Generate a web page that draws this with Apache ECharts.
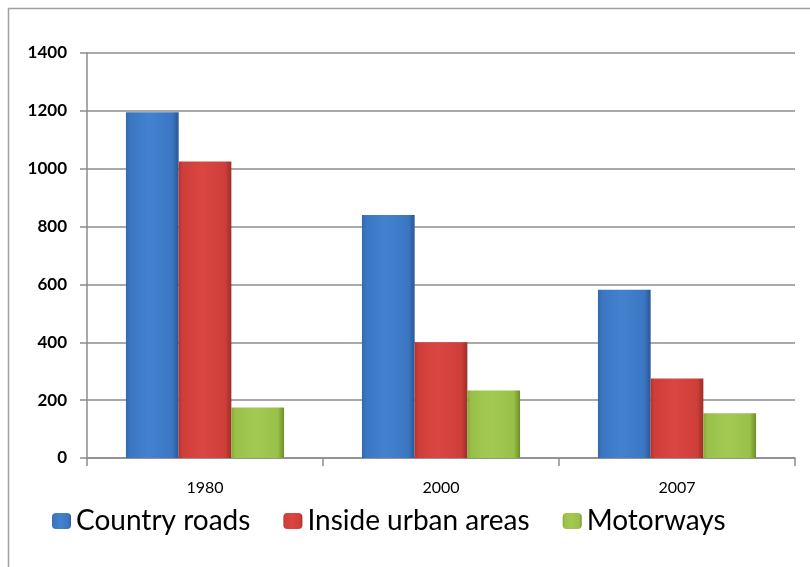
<!DOCTYPE html>
<html>
<head>
<meta charset="utf-8">
<style>
  html, body { margin: 0; padding: 0; background: #ffffff; }
  #chart { width: 810px; height: 567px; }
</style>
<script src="https://cdn.jsdelivr.net/npm/echarts@6/dist/echarts.min.js"></script>
</head>
<body>
<div id="chart"></div>
<script>
// Road fatalities by road type
const years = ['1980', '2000', '2007'];
const countryRoads = [1195, 840, 582];
const urbanAreas = [1025, 400, 275];
const motorways = [175, 233, 155];
const seriesNames = ['Country roads', 'Inside urban areas', 'Motorways'];

const FONT = 'Lato, "Liberation Sans", sans-serif';

// horizontal shading giving each bar a bevelled look
function bevel(edge, main, light, dark) {
  return new echarts.graphic.LinearGradient(0, 0, 1, 0, [
    { offset: 0, color: edge },
    { offset: 0.08, color: main },
    { offset: 0.45, color: light },
    { offset: 0.88, color: main },
    { offset: 1, color: dark }
  ]);
}

const fills = [
  bevel('#3468AD', '#3B76C2', '#4382CF', '#2A5893'),
  bevel('#B5342F', '#D03E39', '#DA4742', '#9E2E2A'),
  bevel('#86A93A', '#99C148', '#A3C952', '#6F8D2B')
];

const chart = echarts.init(document.getElementById('chart'), null, { renderer: 'canvas' });

chart.setOption({
  animation: false,
  backgroundColor: '#ffffff',
  graphic: [{
    type: 'rect',
    shape: { x: 8.5, y: 8.5, width: 900, height: 700 },
    style: { fill: 'none', stroke: '#a0a0a0', lineWidth: 1.5 },
    silent: true,
    z: -1
  }],
  grid: { left: 87, right: 15, top: 53, bottom: 109, containLabel: false },
  legend: {
    data: seriesNames,
    left: 47,
    top: 502,
    itemWidth: 19,
    itemHeight: 16,
    itemGap: 33,
    textStyle: { fontFamily: FONT, fontSize: 28, color: '#000000' }
  },
  xAxis: {
    type: 'category',
    data: years,
    axisLine: { lineStyle: { color: '#8c8c8c', width: 1.5 } },
    axisTick: { show: true, alignWithLabel: false, length: 8, lineStyle: { color: '#8c8c8c', width: 1.5 } },
    axisLabel: { fontFamily: FONT, fontSize: 16, color: '#000000', margin: 22 }
  },
  yAxis: {
    type: 'value',
    min: 0,
    max: 1400,
    interval: 200,
    axisLine: { show: true, lineStyle: { color: '#8c8c8c', width: 1.5 } },
    axisTick: { show: true, length: 7, lineStyle: { color: '#8c8c8c', width: 1.5 } },
    axisLabel: {
      fontFamily: FONT, fontSize: 17, fontWeight: 'bold', color: '#000000', margin: 20,
      formatter: function (v) { return String(v); }
    },
    splitLine: { lineStyle: { color: '#8c8c8c', width: 1.5 } }
  },
  series: [
    { name: seriesNames[0], type: 'bar', data: countryRoads, barGap: '0%', barCategoryGap: '33%',
      itemStyle: { color: fills[0] } },
    { name: seriesNames[1], type: 'bar', data: urbanAreas,
      itemStyle: { color: fills[1] } },
    { name: seriesNames[2], type: 'bar', data: motorways,
      itemStyle: { color: fills[2] } }
  ]
});
</script>
</body>
</html>
